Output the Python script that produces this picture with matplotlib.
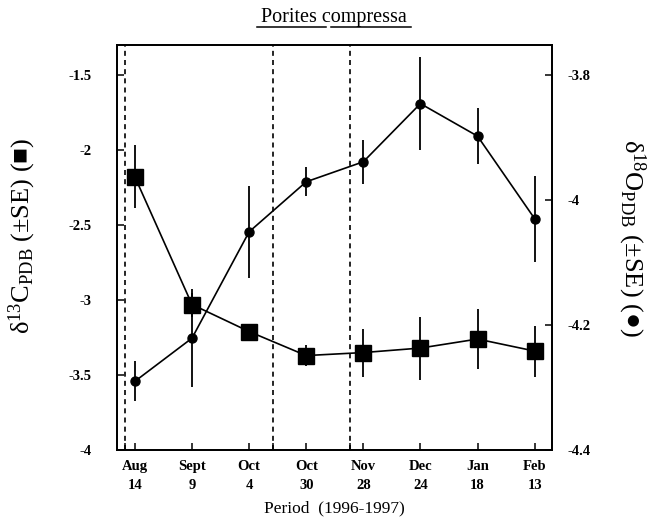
import matplotlib
matplotlib.use("Agg")
import matplotlib.pyplot as plt

plt.rcParams['font.family'] = ['Liberation Serif', 'DejaVu Serif']
plt.rcParams['mathtext.fontset'] = 'custom'
plt.rcParams['mathtext.rm'] = 'Liberation Serif'
plt.rcParams['mathtext.it'] = 'Liberation Serif:italic'
plt.rcParams['mathtext.bf'] = 'Liberation Serif:bold'

months = ["Aug", "Sept", "Oct", "Oct", "Nov", "Dec", "Jan", "Feb"]
days = ["14", "9", "4", "30", "28", "24", "18", "13"]
c13 = [-2.18, -3.03, -3.21, -3.37, -3.35, -3.32, -3.26, -3.34]
c13_se = [0.21, 0.08, 0.03, 0.07, 0.16, 0.21, 0.20, 0.17]
o18 = [-4.290, -4.221, -4.051, -3.971, -3.939, -3.846, -3.898, -4.030]
o18_se = [0.032, 0.078, 0.073, 0.023, 0.035, 0.074, 0.045, 0.069]
event_pos = [-0.18, 2.42, 3.76]

x = list(range(len(months)))

fig = plt.figure(figsize=(6.53, 5.21), dpi=100)
ax = fig.add_axes([0.179, 0.136, 0.666, 0.778])
ax2 = ax.twinx()

for xp in event_pos:
    ax.axvline(xp, color='black', lw=1.2, ls=(0, (3, 2.5)))

ax.errorbar(x, c13, yerr=c13_se, fmt='-s', color='black', ms=11, lw=1.2,
            elinewidth=1.3, capsize=0, zorder=3)
ax2.errorbar(x, o18, yerr=o18_se, fmt='-o', color='black', ms=6.5, lw=1.2,
             elinewidth=1.3, capsize=0, zorder=3)

ax.set_xlim(-0.315, 7.3)
ax.set_ylim(-4.0, -1.3)
ax2.set_ylim(-4.4, -3.752)

ax.set_yticks([-4, -3.5, -3, -2.5, -2, -1.5])
ax.set_yticklabels(["-4", "-3.5", "-3", "-2.5", "-2", "-1.5"])
ax2.set_yticks([-4.4, -4.2, -4.0, -3.8])
ax2.set_yticklabels(["-4.4", "-4.2", "-4", "-3.8"])

ax.set_xticks(x + event_pos)
ax.set_xticklabels([f"{m}\n{d}" for m, d in zip(months, days)] + [""] * len(event_pos))

ax.tick_params(axis='both', direction='in', length=5, width=1.1, labelsize=10.5)
ax.tick_params(axis='y', pad=18)
ax.tick_params(axis='x', pad=7)
ax2.tick_params(axis='y', direction='in', length=5, width=1.1, labelsize=10.5, pad=11)
for lab in ax.get_xticklabels() + ax.get_yticklabels() + ax2.get_yticklabels():
    lab.set_fontweight('bold')
    lab.set_linespacing(1.6)

for a in (ax, ax2):
    for s in a.spines.values():
        s.set_linewidth(1.3)

fig.text(0.512, 1 - 508 / 521, "Period  (1996-1997)", ha='center', va='center', fontsize=12.5)
fig.text(22 / 653, 1 - 236 / 521, "δ$^{13}$C$_{\\mathrm{PDB}}$ (±SE) (■)", fontsize=19,
         rotation=90, ha='center', va='center')
fig.text(632 / 653, 1 - 238 / 521, "δ$^{18}$O$_{\\mathrm{PDB}}$ (±SE) (●)", fontsize=19,
         rotation=-90, ha='center', va='center')

fig.text(0.512, 0.967, "Porites compressa", ha='center', va='center', fontsize=14.5)
# underline each word
fig.add_artist(plt.Line2D([0.393, 0.499], [0.949, 0.949], color='black', lw=1.1))
fig.add_artist(plt.Line2D([0.507, 0.630], [0.949, 0.949], color='black', lw=1.1))

fig.savefig("out.png", dpi=100)
